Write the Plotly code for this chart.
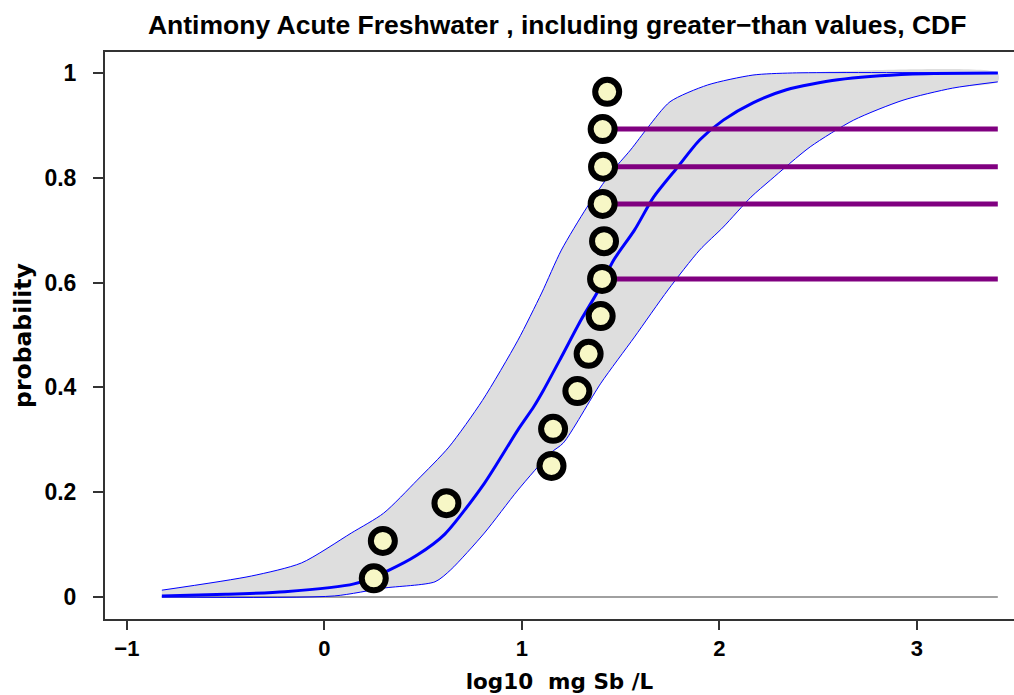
import plotly.graph_objects as go

# observed points (plotting positions)
pt_x = [0.250, 0.296, 0.618, 1.150, 1.158, 1.281, 1.338, 1.399, 1.406, 1.416, 1.409, 1.411, 1.409, 1.432]
pt_y = [0.0357, 0.107, 0.179, 0.250, 0.321, 0.393, 0.464, 0.536, 0.607, 0.679, 0.750, 0.821, 0.893, 0.964]

# greater-than values (horizontal censoring lines)
gt_x = [1.406, 1.409, 1.411, 1.409]
gt_y = [0.607, 0.750, 0.821, 0.893]
gt_end = 3.41

# fitted CDF (median)
mid_x = [-0.823, -0.50, -0.20, 0.15, 0.32, 0.47, 0.61, 0.81, 0.98, 1.06, 1.11, 1.20, 1.30, 1.38,
         1.465, 1.57, 1.667, 1.79, 1.90, 2.02, 2.17, 2.34, 2.60, 2.98, 3.41]
mid_y = [0.002, 0.005, 0.010, 0.025, 0.050, 0.080, 0.120, 0.217, 0.319, 0.363, 0.395, 0.458, 0.529, 0.580,
         0.643, 0.700, 0.763, 0.821, 0.872, 0.910, 0.943, 0.968, 0.987, 0.998, 1.000]

# upper confidence band
up_x = [-0.823, -0.37, -0.116, 0.136, 0.30, 0.47, 0.63, 0.80, 0.98, 1.10, 1.20, 1.33, 1.45, 1.55,
        1.64, 1.75, 1.94, 2.17, 2.37, 3.41]
up_y = [0.013, 0.040, 0.065, 0.122, 0.160, 0.223, 0.286, 0.375, 0.490, 0.580, 0.662, 0.744, 0.809, 0.853,
        0.897, 0.945, 0.977, 0.996, 1.000, 1.000]

# lower confidence band
lo_x = [-0.823, 0.05, 0.30, 0.56, 0.64, 0.81, 0.98, 1.146, 1.21, 1.40, 1.57, 1.74, 1.90, 2.02,
        2.16, 2.26, 2.46, 2.68, 2.93, 3.18, 3.41]
lo_y = [0.000, 0.002, 0.017, 0.029, 0.052, 0.122, 0.204, 0.275, 0.294, 0.408, 0.496, 0.586, 0.662, 0.706,
        0.763, 0.796, 0.859, 0.910, 0.948, 0.971, 0.983]

x_ticks = [-1, 0, 1, 2, 3]
x_ticktext = ["\u22121", "0", "1", "2", "3"]
y_ticks = [0, 0.2, 0.4, 0.6, 0.8, 1.0]
y_ticktext = ["0", "0.2", "0.4", "0.6", "0.8", "1"]

title_text = "Antimony Acute Freshwater , including greater\u2212than values, CDF"
x_title = "log10\u00a0\u00a0mg Sb /L"
y_title = "probability"

FONT = "Liberation Sans, Arial, sans-serif"
FONT_AX = "DejaVu Sans, Liberation Sans, sans-serif"
BLUE = "#0000ff"
SPL = dict(shape="spline", smoothing=0.7)

fig = go.Figure()

# band fill
fig.add_trace(go.Scatter(
    x=up_x + lo_x[::-1], y=up_y + lo_y[::-1], fill="toself",
    fillcolor="#dedede", line=dict(width=0, **SPL), mode="lines", hoverinfo="skip", showlegend=False))

# zero reference line
fig.add_trace(go.Scatter(x=[mid_x[0], mid_x[-1]], y=[0, 0], mode="lines",
                         line=dict(color="#808080", width=1.5), showlegend=False))

# band lines
fig.add_trace(go.Scatter(x=up_x, y=up_y, mode="lines", line=dict(color=BLUE, width=1, **SPL),
                         showlegend=False))
fig.add_trace(go.Scatter(x=lo_x, y=lo_y, mode="lines", line=dict(color=BLUE, width=1, **SPL),
                         showlegend=False))
# median CDF
fig.add_trace(go.Scatter(x=mid_x, y=mid_y, mode="lines", line=dict(color=BLUE, width=3, **SPL),
                         showlegend=False))

# greater-than lines
hx, hy = [], []
for xv, yv in zip(gt_x, gt_y):
    hx += [xv, gt_end, None]
    hy += [yv, yv, None]
fig.add_trace(go.Scatter(x=hx, y=hy, mode="lines", line=dict(color="#800080", width=5),
                         showlegend=False))

# points
fig.add_trace(go.Scatter(x=pt_x, y=pt_y, mode="markers",
                         marker=dict(size=24, color="#f7f7c6", line=dict(color="black", width=6)),
                         showlegend=False))

fig.update_layout(
    width=1014, height=695,
    margin=dict(l=105, r=0, t=52, b=76, autoexpand=False),
    paper_bgcolor="white", plot_bgcolor="white",
    title=dict(text=title_text, x=0.5495, xanchor="center", y=0.964, yanchor="middle",
               font=dict(family=FONT, size=26.5, color="black", weight="bold")),
    xaxis=dict(range=[-1.111, 3.492], tickvals=x_ticks, ticktext=x_ticktext, automargin=False,
               showline=True, linecolor="#333333", linewidth=2, mirror=True,
               ticks="outside", ticklen=9, tickwidth=2, tickcolor="#333333",
               ticklabelstandoff=0,
               showgrid=False, zeroline=False,
               tickfont=dict(family=FONT, size=22, color="black", weight="bold"),
               title=dict(text=x_title, standoff=14,
                          font=dict(family=FONT_AX, size=21.5, color="black", weight="bold"))),
    yaxis=dict(range=[-0.042, 1.040], tickvals=y_ticks, ticktext=y_ticktext, automargin=False,
               showline=True, linecolor="#333333", linewidth=2,
               ticks="outside", ticklen=10, tickwidth=2, tickcolor="#333333",
               ticklabelstandoff=12,
               showgrid=False, zeroline=False,
               tickfont=dict(family=FONT, size=23, color="black", weight="bold"),
               title=dict(text=y_title, standoff=6,
                          font=dict(family=FONT_AX, size=23.5, color="black", weight="bold"))),
)

fig.write_html("out.html", config={"displayModeBar": False},
               post_script="document.body.style.margin='0';document.body.style.padding='0';")
